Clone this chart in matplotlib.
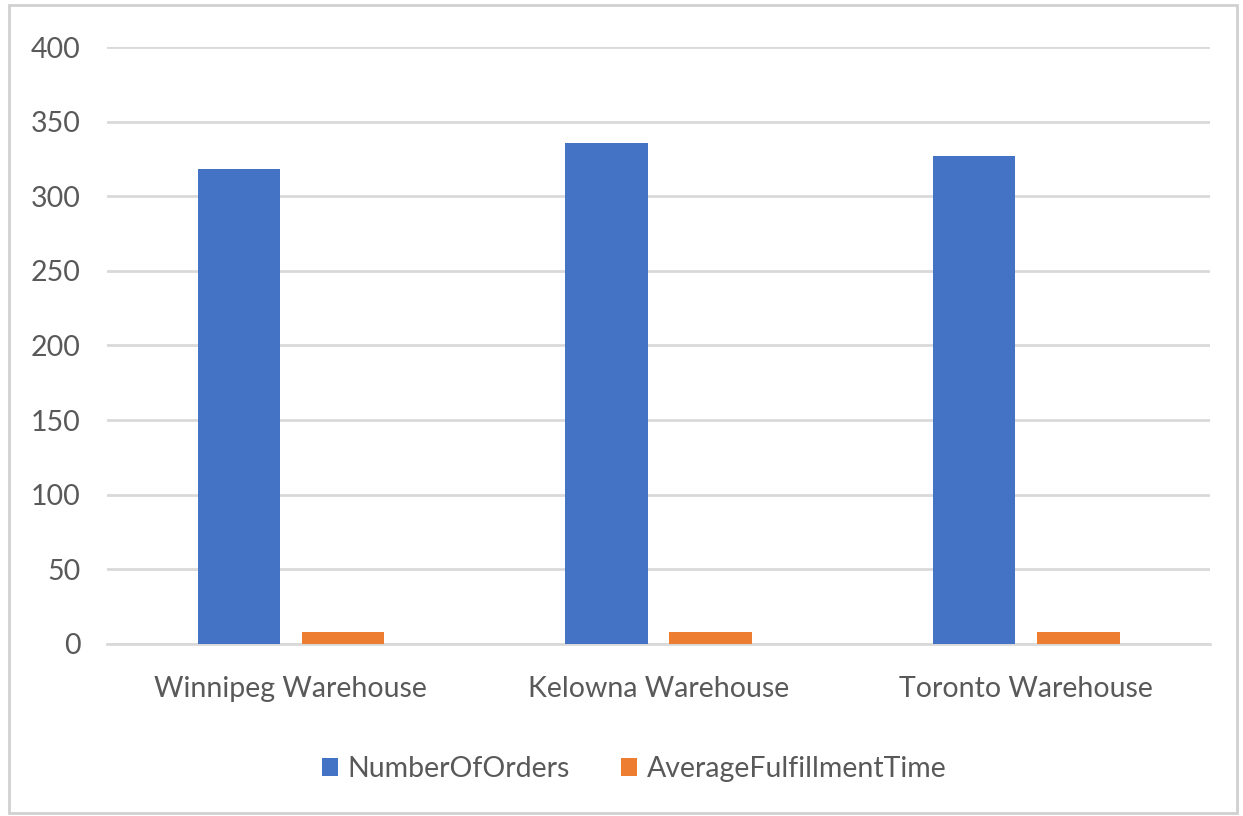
import matplotlib.pyplot as plt
import numpy as np
from matplotlib.patches import Rectangle

warehouses = ["Winnipeg Warehouse", "Kelowna Warehouse", "Toronto Warehouse"]
number_of_orders = [318, 336, 327]
avg_fulfillment_time = [8, 8, 8]

plt.rcParams['font.family'] = ['Lato', 'DejaVu Sans']
text_color = "#595959"

fig = plt.figure(figsize=(12.43, 8.16), dpi=100)
ax = fig.add_axes([0.0861, 0.2108, 0.8874, 0.7316])

x = np.arange(len(warehouses))
w = 0.224
off = 0.1417
ax.bar(x - off, number_of_orders, w, color="#4472C4", label="NumberOfOrders", zorder=3)
ax.bar(x + off, avg_fulfillment_time, w, color="#ED7D31", label="AverageFulfillmentTime", zorder=3)

ax.set_xlim(-0.5, 2.5)
ax.set_ylim(0, 400)
ax.set_yticks(range(0, 401, 50))
ax.set_xticks(x)
ax.set_xticklabels(warehouses)
ax.grid(axis="y", color="#d9d9d9", linewidth=2, zorder=0)
for s in ["top", "right", "left"]:
    ax.spines[s].set_visible(False)
ax.spines["bottom"].set_color("#d9d9d9")
ax.spines["bottom"].set_linewidth(2)
ax.tick_params(axis="both", length=0, labelsize=20.5, colors=text_color)
ax.tick_params(axis="x", pad=23)
ax.tick_params(axis="y", pad=19)

ax.legend(loc="upper center", bbox_to_anchor=(0.478, -0.145), ncol=2, frameon=False,
          fontsize=20.5, labelcolor=text_color, handlelength=0.56, handleheight=0.56,
          handletextpad=0.35, columnspacing=1.8)

# light chart-area border
fig.patches.append(Rectangle((0.007, 0.004), 0.988, 0.99, transform=fig.transFigure,
                             fill=False, edgecolor="#d0d0d0", linewidth=2))

fig.savefig("out.png", dpi=100)
